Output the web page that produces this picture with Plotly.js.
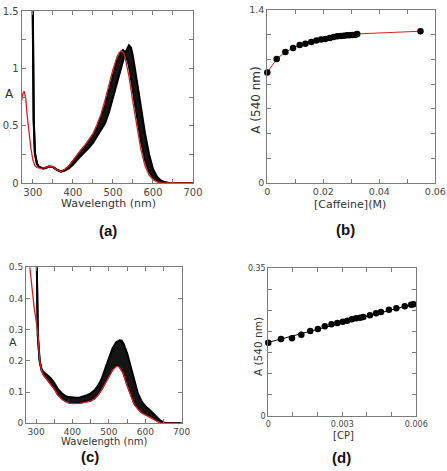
<!DOCTYPE html>
<html>
<head>
<meta charset="utf-8">
<script src="https://cdn.plot.ly/plotly-3.0.1.min.js"></script>
<style>html,body{margin:0;padding:0;background:#fff;}#chart{width:447px;height:471px;}</style>
</head>
<body>
<div id="chart"></div>
<script>
// ---------- Panel (a): spectra with caffeine ----------
const wlRedA = [272,275,278,282,286,290,295,300,305,310,315,320,330,340,350,360,370,380,390,400,410,420,430,440,450,460,470,480,490,500,510,515,520,525,530,540,550,560,570,580,590,600,610,620,630,650,700];
const absRedA = [0.72,0.78,0.80,0.74,0.58,0.43,0.30,0.20,0.15,0.135,0.128,0.128,0.135,0.145,0.14,0.115,0.10,0.12,0.15,0.20,0.25,0.29,0.33,0.38,0.43,0.51,0.60,0.72,0.86,0.99,1.10,1.135,1.15,1.14,1.10,0.93,0.70,0.48,0.29,0.15,0.07,0.03,0.01,0.003,0,0,0];

const wlFirstA = [296,300,302,305,310,315,320,325,330,340,350,360,370,380,390,400,410,420,430,440,450,460,470,480,490,500,510,520,525,530,540,550,560,570,580,590,600,610,620,630,650,700];
const absFirstA = [3,1.7,0.55,0.26,0.17,0.14,0.13,0.127,0.13,0.143,0.14,0.115,0.10,0.115,0.145,0.19,0.235,0.275,0.315,0.36,0.41,0.48,0.57,0.68,0.81,0.95,1.07,1.14,1.16,1.14,1.02,0.80,0.57,0.36,0.20,0.10,0.045,0.018,0.006,0,0,0];

const wlLastA = [296,300,302,305,310,315,320,325,330,340,350,360,370,380,390,400,410,420,430,440,450,460,470,480,490,500,510,520,530,540,545,550,560,570,580,590,600,610,620,630,640,650,700];
const absLastA = [3,1.7,0.55,0.26,0.17,0.14,0.13,0.127,0.13,0.143,0.14,0.115,0.10,0.11,0.13,0.16,0.20,0.235,0.27,0.31,0.35,0.41,0.46,0.52,0.62,0.74,0.87,1.00,1.13,1.20,1.18,1.10,0.88,0.65,0.43,0.25,0.12,0.055,0.02,0.007,0,0,0];

// ---------- Panel (b): A(540) vs [Caffeine] ----------
const caffeine = [0,0.00335,0.00645,0.0092,0.01157,0.0136,0.0157,0.0175,0.0192,0.0207,0.0223,0.0237,0.025,0.0262,0.0273,0.0284,0.0294,0.0304,0.0315,0.0321,0.0547];
const absCaf = [0.894,1.003,1.060,1.092,1.117,1.127,1.141,1.152,1.160,1.165,1.173,1.182,1.187,1.190,1.192,1.195,1.195,1.198,1.200,1.206,1.228];

// ---------- Panel (c): spectra with CP ----------
const wlRedC = [283,290,295,300,305,310,315,320,330,340,350,360,370,380,390,400,410,420,430,440,450,460,470,480,490,500,510,520,525,530,540,550,560,570,580,590,600,610,620,630,640,650,700];
const absRedC = [0.5,0.42,0.37,0.33,0.29,0.2,0.17,0.155,0.14,0.125,0.11,0.09,0.078,0.07,0.065,0.063,0.063,0.064,0.066,0.068,0.071,0.078,0.09,0.107,0.128,0.152,0.17,0.182,0.183,0.178,0.158,0.122,0.088,0.06,0.045,0.033,0.027,0.022,0.015,0.008,0.002,0,0];

const wlFirstC = [296,300,302,305,310,315,320,330,340,350,360,370,380,390,400,410,420,430,440,450,460,470,480,490,500,510,520,525,530,540,550,560,570,580,590,600,610,620,630,640,650,700];
const absFirstC = [1.0,0.6,0.4,0.28,0.2,0.17,0.157,0.142,0.127,0.112,0.092,0.08,0.072,0.067,0.065,0.065,0.066,0.068,0.07,0.073,0.08,0.092,0.109,0.13,0.155,0.173,0.185,0.186,0.181,0.161,0.125,0.091,0.063,0.048,0.036,0.03,0.024,0.017,0.01,0.003,0,0];

const wlLastC = [296,300,302,305,310,315,320,330,340,350,360,370,380,390,400,410,420,430,440,450,460,470,480,490,500,510,520,530,535,540,550,560,570,580,590,600,610,620,630,640,650,660,700];
const absLastC = [1.0,0.6,0.4,0.28,0.2,0.175,0.165,0.155,0.145,0.13,0.11,0.097,0.088,0.084,0.082,0.082,0.083,0.086,0.09,0.096,0.105,0.12,0.142,0.175,0.21,0.24,0.26,0.266,0.265,0.256,0.225,0.18,0.132,0.095,0.07,0.055,0.045,0.035,0.022,0.01,0.003,0,0];

// ---------- Panel (d): A(540) vs [CP] ----------
const cp = [0,0.000515,0.00096,0.00134,0.0017,0.00201,0.00229,0.00256,0.0028,0.00302,0.0032,0.00339,0.00356,0.00372,0.00385,0.00412,0.00437,0.00457,0.00489,0.00519,0.00553,0.00579,0.00589];
const absCP = [0.1737,0.1825,0.1841,0.1927,0.2014,0.2062,0.2125,0.2172,0.2204,0.2235,0.2259,0.2291,0.2315,0.233,0.2346,0.2386,0.2433,0.2464,0.2519,0.2552,0.26,0.2638,0.2647];
const cpFitX = [0,0.0059];
const cpFitY = [0.1745,0.2655];

const BAND = '#151515';
const RED = '#d81e1e';

const traces = [
  // (a)
  {x: wlFirstA, y: absFirstA, xaxis:'x', yaxis:'y', mode:'lines', line:{color:'#000', width:2}, hoverinfo:'skip'},
  {x: wlLastA, y: absLastA, xaxis:'x', yaxis:'y', mode:'lines', fill:'tonexty', fillcolor:BAND, line:{color:'#000', width:2.2}, hoverinfo:'skip'},
  {x: wlRedA, y: absRedA, xaxis:'x', yaxis:'y', mode:'lines', line:{color:RED, width:1.3}},
  // (b)
  {x: caffeine, y: absCaf, xaxis:'x2', yaxis:'y2', mode:'lines+markers', cliponaxis:false,
   line:{color:RED, width:1}, marker:{color:'#000', size:6.5}},
  // (c)
  {x: wlFirstC, y: absFirstC, xaxis:'x3', yaxis:'y3', mode:'lines', line:{color:'#000', width:2}, hoverinfo:'skip'},
  {x: wlLastC, y: absLastC, xaxis:'x3', yaxis:'y3', mode:'lines', fill:'tonexty', fillcolor:BAND, line:{color:'#000', width:2}, hoverinfo:'skip'},
  {x: wlRedC, y: absRedC, xaxis:'x3', yaxis:'y3', mode:'lines', line:{color:RED, width:1.3}},
  // (d)
  {x: cpFitX, y: cpFitY, xaxis:'x4', yaxis:'y4', mode:'lines', line:{color:'#000', width:1}},
  {x: cp, y: absCP, xaxis:'x4', yaxis:'y4', mode:'markers', cliponaxis:false, marker:{color:'#000', size:6.5}}
];

const W = 447, H = 471;
const px = v => v / W;
const py = v => 1 - v / H;

function ax(extra, fontSize) {
  return Object.assign({
    showline:true, linecolor:'#7a7a7a', linewidth:1, mirror:'ticks',
    ticks:'inside', ticklen:4, tickcolor:'#7a7a7a', tickwidth:1,
    showgrid:false, zeroline:false,
    tickfont:{family:'DejaVu Sans', size:fontSize, color:'#444'}
  }, extra);
}
function minor(d) { return {ticks:'inside', ticklen:4, tickcolor:'#7a7a7a', dtick:d, showgrid:false}; }

const layout = {
  width: W, height: H,
  margin:{l:0, r:0, t:0, b:0},
  paper_bgcolor:'#fff', plot_bgcolor:'#fff',
  showlegend:false,
  xaxis: ax({domain:[px(21.7), px(193)], anchor:'y', range:[272,700], tick0:300, dtick:100, minor:minor(50)}, 10),
  yaxis: ax({domain:[py(183), py(11)], anchor:'x', range:[0,1.5], dtick:0.5, minor:minor(0.25)}, 10),
  xaxis2: ax({domain:[px(267.3), px(435.3)], anchor:'y2', range:[0,0.06], tickvals:[0,0.02,0.04,0.06], ticktext:['0','0.02','0.04','0.06'], minor:minor(0.01)}, 9.5),
  yaxis2: ax({domain:[py(182.7), py(10)], anchor:'x2', range:[0,1.4], tickvals:[0,1.4], ticktext:['0','1.4'], minor:minor(0.2)}, 9.5),
  xaxis3: ax({domain:[px(26), px(181.7)], anchor:'y3', range:[272.5,700], tick0:300, dtick:100, minor:minor(50)}, 9),
  yaxis3: ax({domain:[py(423.3), py(267.3)], anchor:'x3', range:[0,0.5], dtick:0.1}, 9),
  xaxis4: ax({domain:[px(268.3), px(416.3)], anchor:'y4', range:[0,0.006], tickvals:[0,0.003,0.006], ticktext:['0','0.003','0.006'], minor:minor(0.001)}, 8),
  yaxis4: ax({domain:[py(416), py(268.3)], anchor:'x4', range:[0,0.35], tickvals:[0,0.35], ticktext:['0','0.35'], minor:minor(0.05)}, 8),
  annotations: [
    {text:'A', x:px(9), y:py(94), font:{family:'DejaVu Sans', size:12, color:'#333'}},
    {text:'Wavelength (nm)', x:px(108.8), y:py(203), font:{family:'DejaVu Sans', size:11, color:'#333'}},
    {text:'<b>(a)</b>', x:px(108), y:py(230), font:{family:'Liberation Sans', size:15, color:'#111'}},
    {text:'A (540 nm)', x:px(255.7), y:py(100), textangle:-90, font:{family:'DejaVu Sans', size:12, color:'#333'}},
    {text:'[Caffeine](M)', x:px(350), y:py(204.7), font:{family:'DejaVu Sans', size:11, color:'#333'}},
    {text:'<b>(b)</b>', x:px(345.7), y:py(229.3), font:{family:'Liberation Sans', size:15, color:'#111'}},
    {text:'A', x:px(12.7), y:py(342.3), font:{family:'DejaVu Sans', size:11, color:'#333'}},
    {text:'Wavelength (nm)', x:px(104), y:py(441.7), font:{family:'DejaVu Sans', size:10, color:'#333'}},
    {text:'<b>(c)</b>', x:px(90), y:py(456.7), font:{family:'Liberation Sans', size:15, color:'#111'}},
    {text:'A (540 nm)', x:px(257.3), y:py(346.7), textangle:-90, font:{family:'DejaVu Sans', size:10.5, color:'#333'}},
    {text:'[CP]', x:px(343.3), y:py(435), font:{family:'DejaVu Sans', size:10, color:'#333'}},
    {text:'<b>(d)</b>', x:px(341.3), y:py(457.7), font:{family:'Liberation Sans', size:15, color:'#111'}}
  ].map(a => Object.assign({xref:'paper', yref:'paper', xanchor:'center', yanchor:'middle', showarrow:false}, a))
};

Plotly.newPlot('chart', traces, layout, {staticPlot:true, displayModeBar:false});
</script>
</body>
</html>
